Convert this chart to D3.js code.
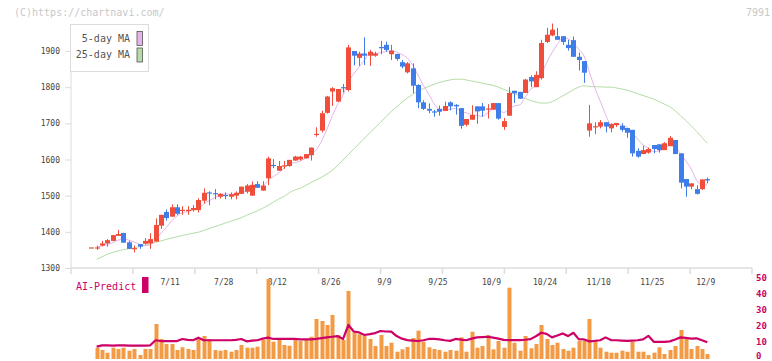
<!DOCTYPE html>
<html><head><meta charset="utf-8">
<script src="https://cdn.jsdelivr.net/npm/d3@7/dist/d3.min.js"></script>
<style>body{margin:0;background:#fff}svg{display:block}</style>
</head><body>
<svg id="c" width="772" height="361"></svg>
<script>
// ---- data ----
const opens  = [1357,1357,1362,1368,1375,1389,1397,1371,1353,1366,1367,1368,1373,1417,1455,1442,1468,1459,1457,1460,1460,1486,1509,1507,1497,1502,1497,1500,1505,1511,1500,1532,1514,1548,1585,1569,1581,1582,1597,1600,1603,1612,1668,1680,1729,1788,1760,1800,1792,1900,1881,1893,1887,1887,1911,1917,1891,1892,1869,1841,1852,1806,1758,1740,1733,1740,1734,1758,1751,1742,1696,1710,1747,1747,1739,1738,1756,1690,1721,1790,1787,1784,1828,1800,1825,1925,1943,1941,1941,1917,1930,1884,1872,1680,1690,1691,1703,1686,1695,1693,1687,1682,1624,1615,1619,1640,1642,1626,1637,1654,1617,1546,1525,1518,1518,1546];
const highs  = [1357,1362,1375,1380,1391,1405,1397,1375,1362,1366,1383,1396,1437,1447,1462,1476,1476,1471,1471,1474,1493,1520,1512,1518,1507,1509,1509,1512,1525,1532,1539,1540,1540,1608,1601,1596,1596,1599,1610,1610,1615,1633,1689,1735,1776,1800,1795,1809,1917,1900,1898,1938,1903,1898,1928,1926,1917,1892,1875,1869,1866,1808,1764,1755,1737,1749,1760,1761,1753,1742,1712,1750,1747,1756,1753,1756,1756,1715,1800,1790,1787,1823,1833,1844,1931,1964,1976,1964,1941,1931,1940,1896,1872,1751,1703,1709,1703,1700,1701,1700,1687,1682,1631,1638,1633,1640,1642,1648,1665,1654,1617,1546,1534,1529,1545,1550];
const lows   = [1357,1350,1360,1359,1375,1389,1370,1353,1343,1353,1365,1353,1373,1408,1431,1442,1447,1447,1447,1456,1453,1479,1474,1490,1492,1490,1490,1490,1505,1506,1500,1522,1514,1529,1576,1569,1574,1580,1597,1597,1603,1597,1663,1675,1727,1748,1760,1785,1788,1860,1859,1861,1859,1884,1891,1898,1875,1873,1852,1838,1783,1742,1737,1728,1718,1721,1734,1736,1724,1685,1692,1710,1699,1718,1713,1738,1710,1682,1721,1756,1768,1784,1800,1800,1821,1922,1941,1931,1917,1901,1884,1846,1812,1663,1670,1686,1675,1675,1690,1677,1660,1608,1605,1615,1616,1617,1619,1626,1637,1615,1520,1497,1518,1503,1516,1534];
const closes = [1357,1357,1368,1377,1391,1394,1370,1353,1355,1359,1375,1380,1419,1447,1438,1468,1450,1461,1461,1466,1488,1508,1506,1504,1505,1500,1504,1508,1525,1528,1530,1522,1528,1603,1582,1582,1584,1599,1608,1608,1615,1633,1671,1728,1774,1797,1795,1797,1910,1887,1893,1887,1898,1893,1909,1903,1901,1878,1857,1866,1804,1758,1740,1735,1731,1732,1748,1747,1747,1693,1712,1723,1733,1735,1741,1756,1713,1706,1784,1783,1768,1821,1816,1834,1922,1945,1959,1931,1925,1908,1884,1875,1840,1700,1692,1703,1691,1698,1701,1682,1674,1617,1608,1626,1629,1629,1626,1645,1660,1615,1536,1525,1534,1505,1545,1542];
const ma5  = [null,1358,1361,1365,1370,1377,1380,1377,1372,1366,1362,1364,1377,1396,1412,1430,1444,1453,1456,1461,1465,1477,1486,1494,1502,1505,1504,1504,1508,1513,1519,1523,1527,1542,1553,1563,1576,1590,1591,1596,1603,1613,1627,1651,1684,1721,1753,1778,1815,1837,1856,1875,1895,1892,1896,1898,1901,1897,1890,1881,1861,1833,1805,1781,1754,1739,1737,1739,1741,1733,1729,1724,1722,1719,1729,1738,1736,1730,1740,1748,1751,1772,1794,1804,1832,1868,1895,1918,1936,1934,1921,1905,1886,1841,1798,1762,1725,1697,1697,1695,1689,1674,1656,1641,1631,1622,1624,1631,1638,1635,1616,1596,1574,1543,1529,1530];
const ma25 = [null,1324,1331,1338,1343,1347,1351,1353,1356,1359,1363,1367,1371,1375,1379,1383,1386,1390,1393,1396,1399,1404,1409,1414,1419,1424,1429,1434,1439,1446,1452,1458,1465,1473,1482,1491,1498,1508,1516,1520,1528,1536,1544,1551,1560,1570,1584,1599,1614,1629,1644,1659,1674,1688,1703,1718,1733,1746,1758,1770,1780,1790,1796,1802,1808,1813,1817,1820,1822,1822,1820,1817,1814,1811,1808,1805,1800,1794,1788,1782,1776,1769,1763,1759,1756,1756,1760,1767,1776,1784,1793,1800,1804,1802,1801,1801,1800,1800,1798,1795,1792,1787,1782,1777,1772,1767,1760,1753,1746,1735,1721,1708,1693,1678,1661,1645];
const volumes = [0,11.3,9,6.3,11.3,10,11.3,8.3,10,4,10,10,35,20,15,15,9,11.7,10,9,20,23,20,9,8.3,9,7.3,9,14,11.3,11.3,12.3,19,80,17.3,20,14,13.3,19,18,20,22.3,40,38,34,44,24,19,68,26.7,24.7,23,20,13,24,13,16.3,7.3,9.7,12,21,28.3,17.3,11.7,10,9,7.3,9,8.3,21.7,7.3,27.3,11.3,13,24,9.7,18,11.3,71.3,16.3,8.3,23,10.7,15,34,20,14,16.3,10,8.3,11.3,18.3,18.3,40,17.3,11.3,7.3,6.3,6.3,8.3,7.3,17.3,7.3,7.3,4,6.3,11.7,5,9,13,29,20.7,10,13,10,5];
const aiPredict = [null,7.0,7.8,7.8,7.6,7.8,7.8,7.6,7.6,7.6,7.6,7.8,11.0,10.5,10.5,10.5,10.5,11.8,11.2,11.0,12.6,11.0,11.0,11.0,11.0,11.0,11.0,11.2,11.8,10.3,10.8,11.0,12.0,12.6,11.8,11.8,11.8,11.8,11.8,11.5,11.5,11.5,11.8,12.3,12.8,13.2,13.6,11.8,20.6,16.5,15.9,14.3,14.8,15.5,16.8,16.5,16.4,13.6,12.0,11.1,10.8,10.5,11.0,11.8,11.8,11.5,11.0,10.6,11.8,11.4,11.0,12.0,12.8,13.0,13.2,12.6,12.0,11.2,11.1,11.1,11.1,11.3,11.7,13.5,15.7,15.0,12.8,14.0,15.3,13.6,15.7,11.7,11.5,10.3,10.6,11.0,12.8,11.1,11.0,10.8,10.6,10.8,11.0,11.5,13.8,10.0,10.0,10.0,10.3,11.5,12.8,12.5,12.0,12.2,11.0,9.7];
const dateLabels = ["7/11","7/28","8/12","8/26","9/9","9/25","10/9","10/24","11/10","11/25","12/9"];
const dateLabelIdx = [15,25,35,45,55,65,75,85,95,105,115];
const priceTicks = [1300,1400,1500,1600,1700,1800,1900];
const aiTicks = [0,10,20,30,40,50];
const legendItems = ["5-day MA","25-day MA"];

// ---- drawing ----
const svg = d3.select("#c");
const mono = "'DejaVu Sans Mono', 'Liberation Mono', monospace";
const UP = "#f04e3c", DOWN = "#3f7ee8";
const idx = d3.range(closes.length);

const x = d3.scaleLinear().domain([0, closes.length - 1]).range([91.3, 707.3]);
const y = d3.scaleLinear().domain([1300, 1900]).range([268, 51]);
const yVol = d3.scaleLinear().domain([0, 80]).range([359, 279]);
const yAI = d3.scaleLinear().domain([0, 50]).range([357.7, 278.3]);
const tickPos = d3.scaleLinear().domain([0, 11]).range([71, 752]);

// header texts
svg.append("text").attr("x", 14).attr("y", 16).attr("font-family", mono).attr("font-size", 10)
  .attr("fill", "#c8c8c8").text("(C)https://chartnavi.com/");
svg.append("text").attr("x", 770).attr("y", 16).attr("text-anchor", "end").attr("font-family", mono)
  .attr("font-size", 10).attr("fill", "#c8c8c8").text("7991");

// y axis
const yAxis = d3.axisLeft(y).tickValues(priceTicks).tickSize(6).tickPadding(5).tickFormat(d3.format("d"));
const gy = svg.append("g").attr("transform", "translate(71,0)").call(yAxis);
gy.select(".domain").remove();
gy.selectAll("line").attr("stroke", "#dcdcdc");
gy.selectAll("text").attr("font-family", mono).attr("font-size", 8).attr("fill", "#444");
svg.append("line").attr("x1", 71).attr("x2", 71).attr("y1", 24).attr("y2", y(1300))
  .attr("stroke", "#dcdcdc");

// x axis line and ticks
svg.append("line").attr("x1", tickPos(0)).attr("x2", tickPos(11)).attr("y1", y(1300)).attr("y2", y(1300))
  .attr("stroke", "#dcdcdc").attr("stroke-width", 1.5);
svg.append("g").selectAll("line").data(d3.range(12)).join("line")
  .attr("x1", d => tickPos(d)).attr("x2", d => tickPos(d))
  .attr("y1", y(1300)).attr("y2", y(1300) + 6).attr("stroke", "#dcdcdc").attr("stroke-width", 1.5);

// date labels
svg.append("g").selectAll("text").data(dateLabels).join("text")
  .attr("x", (d, k) => x(dateLabelIdx[k]) - 1.5).attr("y", 285).attr("text-anchor", "middle")
  .attr("font-family", mono).attr("font-size", 8).attr("fill", "#444").text(d => d);

// MA lines
const lineGen = arr => d3.line().defined(i => arr[i] != null)
  .x(i => x(i)).y(i => y(arr[i])).curve(d3.curveMonotoneX)(idx);
svg.append("path").attr("d", lineGen(ma25)).attr("fill", "none").attr("stroke", "#b5dca6").attr("stroke-width", 1);
svg.append("path").attr("d", lineGen(ma5)).attr("fill", "none").attr("stroke", "#e6b3ea").attr("stroke-width", 1);

// candles
const cg = svg.append("g");
cg.selectAll("line").data(idx).join("line")
  .attr("x1", i => Math.round(x(i)) + 0.5).attr("x2", i => Math.round(x(i)) + 0.5)
  .attr("y1", i => y(highs[i])).attr("y2", i => y(lows[i]))
  .attr("stroke", i => closes[i] >= opens[i] ? UP : DOWN).attr("stroke-width", 1);
cg.selectAll("rect").data(idx).join("rect")
  .attr("x", i => Math.round(x(i)) - 2)
  .attr("width", 5)
  .attr("y", i => y(Math.max(opens[i], closes[i])))
  .attr("height", i => Math.max(1.2, Math.abs(y(opens[i]) - y(closes[i]))))
  .attr("fill", i => closes[i] >= opens[i] ? UP : DOWN);

// legend
const lg = svg.append("g");
lg.append("rect").attr("x", 70.5).attr("y", 24.5).attr("width", 78).attr("height", 47)
  .attr("fill", "#fff").attr("stroke", "#dcdcdc");
const legendColors = ["#e6b3ea", "#b5dca6"];
legendItems.forEach((t, k) => {
  lg.append("text").attr("x", 130).attr("y", 42 + k * 16).attr("text-anchor", "end")
    .attr("font-family", mono).attr("font-size", 10).attr("fill", "#555").text(t);
  lg.append("rect").attr("x", 137).attr("y", 31.5 + k * 16.5).attr("width", 5.5).attr("height", 14)
    .attr("fill", legendColors[k]).attr("stroke", "#555").attr("stroke-width", 0.8);
});

// volume bars
svg.append("g").selectAll("rect").data(idx).join("rect")
  .attr("x", i => Math.round(x(i)) - 1.5).attr("width", 4)
  .attr("y", i => yVol(volumes[i])).attr("height", i => yVol(0) - yVol(volumes[i]))
  .attr("fill", "#f39a45");

// AI predict line
svg.append("path").attr("d", d3.line().defined(i => aiPredict[i] != null)
    .x(i => x(i)).y(i => yAI(aiPredict[i]))(idx))
  .attr("fill", "none").attr("stroke", "#cc0066").attr("stroke-width", 2.2).attr("stroke-linejoin", "round");

// AI legend
svg.append("text").attr("x", 76).attr("y", 290).attr("font-family", mono).attr("font-size", 10)
  .attr("fill", "#cc0066").text("AI-Predict");
svg.append("rect").attr("x", 142).attr("y", 277).attr("width", 6.5).attr("height", 16).attr("fill", "#cc0066");

// right axis
svg.append("g").selectAll("text").data(aiTicks).join("text")
  .attr("x", 756).attr("y", d => Math.min(yAI(d) + 3, 359)).attr("font-family", mono).attr("font-size", 9)
  .attr("font-weight", "bold").attr("fill", "#cc0066").text(d => d);
</script>
</body></html>
